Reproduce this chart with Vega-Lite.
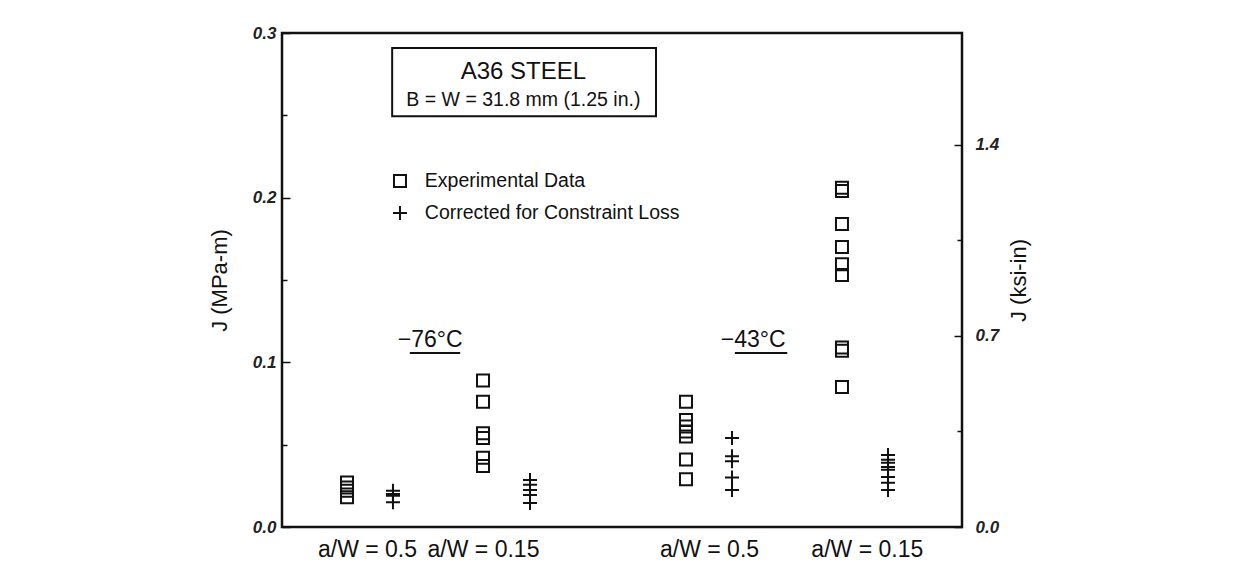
{
  "$schema": "https://vega.github.io/schema/vega-lite/v6.json",
  "width": 680,
  "height": 494,
  "autosize": "none",
  "padding": {"left": 282, "top": 33, "right": 283, "bottom": 42},
  "background": "white",
  "config": {
    "font": "Liberation Sans",
    "view": {"stroke": "#111", "strokeWidth": 2.5},
    "axis": {"grid": false, "domain": false}
  },
  "datasets": {
    "pts": [
      {"pos": 0.956, "J": 0.027, "series": "Experimental Data"},
      {"pos": 0.956, "J": 0.024, "series": "Experimental Data"},
      {"pos": 0.956, "J": 0.022, "series": "Experimental Data"},
      {"pos": 0.956, "J": 0.018, "series": "Experimental Data"},
      {"pos": 1.632, "J": 0.022, "series": "Corrected for Constraint Loss"},
      {"pos": 1.632, "J": 0.020, "series": "Corrected for Constraint Loss"},
      {"pos": 1.632, "J": 0.019, "series": "Corrected for Constraint Loss"},
      {"pos": 1.632, "J": 0.015, "series": "Corrected for Constraint Loss"},
      {"pos": 2.956, "J": 0.089, "series": "Experimental Data"},
      {"pos": 2.956, "J": 0.076, "series": "Experimental Data"},
      {"pos": 2.956, "J": 0.057, "series": "Experimental Data"},
      {"pos": 2.956, "J": 0.054, "series": "Experimental Data"},
      {"pos": 2.956, "J": 0.042, "series": "Experimental Data"},
      {"pos": 2.956, "J": 0.037, "series": "Experimental Data"},
      {"pos": 3.647, "J": 0.0286, "series": "Corrected for Constraint Loss"},
      {"pos": 3.647, "J": 0.0256, "series": "Corrected for Constraint Loss"},
      {"pos": 3.647, "J": 0.0225, "series": "Corrected for Constraint Loss"},
      {"pos": 3.647, "J": 0.0195, "series": "Corrected for Constraint Loss"},
      {"pos": 3.647, "J": 0.0146, "series": "Corrected for Constraint Loss"},
      {"pos": 5.941, "J": 0.076, "series": "Experimental Data"},
      {"pos": 5.941, "J": 0.065, "series": "Experimental Data"},
      {"pos": 5.941, "J": 0.061, "series": "Experimental Data"},
      {"pos": 5.941, "J": 0.058, "series": "Experimental Data"},
      {"pos": 5.941, "J": 0.055, "series": "Experimental Data"},
      {"pos": 5.941, "J": 0.041, "series": "Experimental Data"},
      {"pos": 5.941, "J": 0.029, "series": "Experimental Data"},
      {"pos": 6.618, "J": 0.054, "series": "Corrected for Constraint Loss"},
      {"pos": 6.618, "J": 0.043, "series": "Corrected for Constraint Loss"},
      {"pos": 6.618, "J": 0.040, "series": "Corrected for Constraint Loss"},
      {"pos": 6.618, "J": 0.030, "series": "Corrected for Constraint Loss"},
      {"pos": 6.618, "J": 0.0225, "series": "Corrected for Constraint Loss"},
      {"pos": 8.235, "J": 0.206, "series": "Experimental Data"},
      {"pos": 8.235, "J": 0.204, "series": "Experimental Data"},
      {"pos": 8.235, "J": 0.184, "series": "Experimental Data"},
      {"pos": 8.235, "J": 0.170, "series": "Experimental Data"},
      {"pos": 8.235, "J": 0.1595, "series": "Experimental Data"},
      {"pos": 8.235, "J": 0.153, "series": "Experimental Data"},
      {"pos": 8.235, "J": 0.109, "series": "Experimental Data"},
      {"pos": 8.235, "J": 0.107, "series": "Experimental Data"},
      {"pos": 8.235, "J": 0.085, "series": "Experimental Data"},
      {"pos": 8.912, "J": 0.0438, "series": "Corrected for Constraint Loss"},
      {"pos": 8.912, "J": 0.0408, "series": "Corrected for Constraint Loss"},
      {"pos": 8.912, "J": 0.039, "series": "Corrected for Constraint Loss"},
      {"pos": 8.912, "J": 0.0365, "series": "Corrected for Constraint Loss"},
      {"pos": 8.912, "J": 0.0347, "series": "Corrected for Constraint Loss"},
      {"pos": 8.912, "J": 0.0304, "series": "Corrected for Constraint Loss"},
      {"pos": 8.912, "J": 0.0268, "series": "Corrected for Constraint Loss"},
      {"pos": 8.912, "J": 0.0225, "series": "Corrected for Constraint Loss"}
    ],
    "legend": [
      {"pos": 1.735, "J": 0.2101, "series": "Experimental Data", "tpos": 2.1},
      {"pos": 1.735, "J": 0.1907, "series": "Corrected for Constraint Loss", "tpos": 2.1}
    ],
    "box": [{"pos": 1.62, "pos2": 5.5, "J": 0.2909, "J2": 0.2495}],
    "boxText": [
      {"pos": 3.55, "J": 0.2763, "label": "A36 STEEL", "size": 24},
      {"pos": 3.55, "J": 0.2596, "label": "B = W = 31.8 mm (1.25 in.)", "size": 19.5}
    ],
    "temps": [
      {"pos": 2.18, "J": 0.1136, "label": "−76°C"},
      {"pos": 6.93, "J": 0.1136, "label": "−43°C"}
    ],
    "underlines": [
      {"pos": 1.88, "pos2": 2.62, "J": 0.1057},
      {"pos": 6.66, "pos2": 7.43, "J": 0.1057}
    ],
    "ksi": [{"k": 0}, {"k": 1.81}]
  },
  "resolve": {"scale": {"y": "independent"}},
  "layer": [
    {
      "layer": [
        {
          "data": {"name": "pts"},
          "mark": {"type": "point", "filled": false, "strokeWidth": 2, "opacity": 1},
          "encoding": {
            "x": {
              "field": "pos", "type": "quantitative",
              "scale": {"domain": [0, 10], "nice": false, "zero": false},
              "axis": {
                "title": null,
                "values": [1.25, 2.956, 6.28, 8.6],
                "labelExpr": "datum.value < 2 ? 'a/W = 0.5' : datum.value < 4 ? 'a/W = 0.15' : datum.value < 7 ? 'a/W = 0.5' : 'a/W = 0.15'",
                "ticks": false,
                "labelFontSize": 23,
                "labelColor": "#111",
                "labelPadding": 11,
                "labelFlush": false,
                "labelOverlap": false
              }
            },
            "y": {
              "field": "J", "type": "quantitative",
              "scale": {"domain": [0, 0.3], "nice": false, "zero": false},
              "axis": {
                "title": "J (MPa-m)",
                "titleFontSize": 22,
                "titleFontWeight": "normal",
                "titleColor": "#111",
                "titlePadding": 21,
                "values": [0, 0.05, 0.1, 0.15, 0.2, 0.25, 0.3],
                "labelExpr": "round(datum.value*100) % 10 == 5 ? '' : format(datum.value, '.1f')",
                "tickSize": {"condition": {"test": "round(datum.value*100) % 10 == 5", "value": -5}, "value": -8},
                "tickColor": "#111",
                "tickWidth": 1.5,
                "labelFontSize": 17,
                "labelFontStyle": "italic",
                "labelFontWeight": "bold",
                "labelColor": "#222",
                "labelPadding": 14
              }
            },
            "shape": {
              "field": "series", "type": "nominal",
              "scale": {"domain": ["Experimental Data", "Corrected for Constraint Loss"], "range": ["square", "M-1,0H1M0,-1V1"]},
              "legend": null
            },
            "size": {
              "field": "series", "type": "nominal",
              "scale": {"domain": ["Experimental Data", "Corrected for Constraint Loss"], "range": [144, 196]},
              "legend": null
            },
            "color": {"value": "#111"}
          }
        },
        {
          "data": {"name": "legend"},
          "mark": {"type": "point", "filled": false, "strokeWidth": 2, "opacity": 1},
          "encoding": {
            "x": {"field": "pos", "type": "quantitative"},
            "y": {"field": "J", "type": "quantitative"},
            "shape": {"field": "series", "type": "nominal", "legend": null},
            "size": {"field": "series", "type": "nominal", "legend": null},
            "color": {"value": "#111"}
          }
        },
        {
          "data": {"name": "legend"},
          "mark": {"type": "text", "align": "left", "baseline": "middle", "fontSize": 19.5, "color": "#111"},
          "encoding": {
            "x": {"field": "tpos", "type": "quantitative"},
            "y": {"field": "J", "type": "quantitative"},
            "text": {"field": "series"}
          }
        },
        {
          "data": {"name": "box"},
          "mark": {"type": "rect", "fill": null, "stroke": "#111", "strokeWidth": 2},
          "encoding": {
            "x": {"field": "pos", "type": "quantitative"},
            "x2": {"field": "pos2"},
            "y": {"field": "J", "type": "quantitative"},
            "y2": {"field": "J2"}
          }
        },
        {
          "data": {"name": "boxText"},
          "mark": {"type": "text", "align": "center", "baseline": "middle", "color": "#111"},
          "encoding": {
            "x": {"field": "pos", "type": "quantitative"},
            "y": {"field": "J", "type": "quantitative"},
            "text": {"field": "label"},
            "size": {"field": "size", "type": "quantitative", "scale": null}
          }
        },
        {
          "data": {"name": "temps"},
          "mark": {"type": "text", "align": "center", "baseline": "middle", "fontSize": 23, "color": "#111"},
          "encoding": {
            "x": {"field": "pos", "type": "quantitative"},
            "y": {"field": "J", "type": "quantitative"},
            "text": {"field": "label"}
          }
        },
        {
          "data": {"name": "underlines"},
          "mark": {"type": "rule", "color": "#111", "strokeWidth": 2},
          "encoding": {
            "x": {"field": "pos", "type": "quantitative"},
            "x2": {"field": "pos2"},
            "y": {"field": "J", "type": "quantitative"}
          }
        }
      ]
    },
    {
      "data": {"name": "ksi"},
      "mark": {"type": "point", "opacity": 0},
      "encoding": {
        "y": {
          "field": "k", "type": "quantitative",
          "scale": {"domain": [0, 1.81], "nice": false, "zero": false},
          "axis": {
            "orient": "right",
            "title": "J (ksi-in)",
            "titleAngle": 270,
            "titleFontSize": 22,
            "titleFontWeight": "normal",
            "titleColor": "#111",
            "titlePadding": 32,
            "values": [0, 0.35, 0.7, 1.05, 1.4],
            "labelExpr": "round(datum.value*100) % 70 == 35 ? '' : format(datum.value, '.1f')",
            "tickSize": {"condition": {"test": "round(datum.value*100) % 70 == 35", "value": -5}, "value": -8},
            "tickColor": "#111",
            "tickWidth": 1.5,
            "labelFontSize": 17,
            "labelFontStyle": "italic",
            "labelFontWeight": "bold",
            "labelColor": "#222",
            "labelPadding": 21
          }
        }
      }
    }
  ]
}
